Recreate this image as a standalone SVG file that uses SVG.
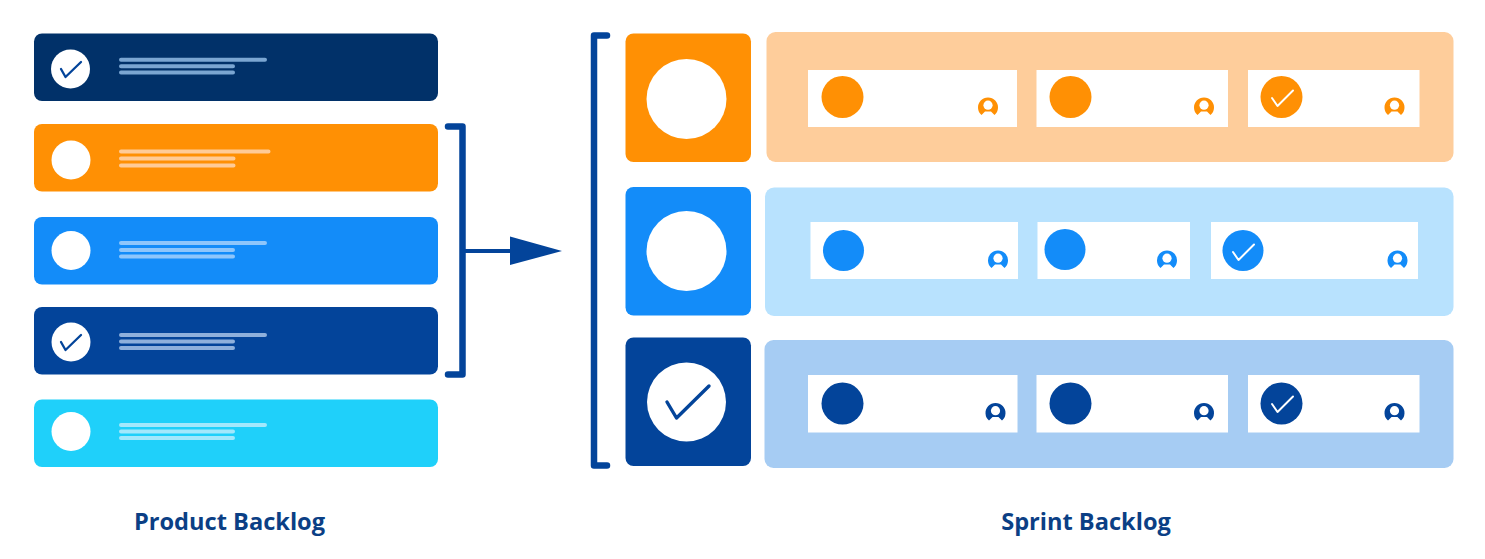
<svg xmlns="http://www.w3.org/2000/svg" width="1485" height="559" viewBox="0 0 1485 559">
<defs>
<g id="user"><path d="M-6.500 8 A10 10 0 1 1 6.500 8 L3 4.500 H-3 Z" fill="currentColor"/><circle cx="0" cy="-1.800" r="4.600" fill="#fff"/></g>
</defs>
<style>
.lbl{font-family:"Open Sans","Noto Sans",sans-serif;font-weight:700;font-size:23.600px;fill:#0b3f85;text-anchor:middle}
.ln{stroke-width:4;stroke-linecap:round}
.w{fill:#fff}
.chk{fill:none;stroke-linecap:round;stroke-linejoin:round}
.brk{fill:none;stroke:#03449a;stroke-width:6.500;stroke-linejoin:round;stroke-linecap:round}
.o{color:#ff9004;fill:#ff9004}.b{color:#138cf9;fill:#138cf9}.d{color:#03449a;fill:#03449a}
</style>
<rect width="1485" height="559" fill="#fff"/>

<g id="pb1"><rect x="34" y="33.500" width="404" height="67.500" rx="8" fill="#013169"/><circle cx="70.500" cy="69" r="19.500" class="w"/><path class="chk" d="M61 69 L65.500 77 L81 62" stroke="#03449a" stroke-width="2.300"/><g stroke="#7ba6d2" class="ln"><path d="M121 59.700H265M121 66.200H233M121 72.500H233"/></g></g>
<g id="pb2"><rect x="34" y="124" width="404" height="67.500" rx="8" fill="#ff9004"/><circle cx="71" cy="160" r="19.500" class="w"/><g stroke="#ffcb97" class="ln"><path d="M121 151.500H268.500M121 158.500H233.500M121 165.500H233.500"/></g></g>
<g id="pb3"><rect x="34" y="217" width="404" height="67.500" rx="8" fill="#138cf9"/><circle cx="71" cy="250.500" r="19.500" class="w"/><g stroke="#8ec6fb" class="ln"><path d="M121 243H265M121 250H233M121 256.500H233"/></g></g>
<g id="pb4"><rect x="34" y="307" width="404" height="67.500" rx="8" fill="#03449a"/><circle cx="71" cy="342" r="19.500" class="w"/><path class="chk" d="M61 342 L65.500 350 L81 335" stroke="#03449a" stroke-width="2.300"/><g stroke="#8eb0dc" class="ln"><path d="M121 335H265M121 341.500H233M121 348H233"/></g></g>
<g id="pb5"><rect x="34" y="399.500" width="404" height="67.500" rx="8" fill="#1fd0fa"/><circle cx="71" cy="431.500" r="19.500" class="w"/><g stroke="#a3e8fc" class="ln"><path d="M121 425H265M121 431.500H233M121 438H233"/></g></g>

<g id="connectors">
<path class="brk" d="M448 126.500H462.500V374.500H448"/>
<path d="M465 251H512" stroke="#03449a" stroke-width="4" fill="none"/>
<polygon points="510,236.500 562,251 510,265" fill="#03449a"/>
<path class="brk" d="M607 35.500H594V465.500H607"/>
</g>

<g id="head1"><rect x="625.500" y="33.500" width="125.500" height="128.500" rx="8" fill="#ff9004"/><circle cx="686.500" cy="99" r="40" class="w"/></g>
<g id="head2"><rect x="625.500" y="187" width="125.500" height="128.500" rx="8" fill="#138cf9"/><circle cx="686.500" cy="251" r="40" class="w"/></g>
<g id="head3"><rect x="625.500" y="337.500" width="125.500" height="128.500" rx="8" fill="#03449a"/><circle cx="686.500" cy="402" r="39.500" class="w"/><path class="chk" d="M667 402 L676.500 418 L709 386" stroke="#03449a" stroke-width="3.400"/></g>

<g id="row1"><rect x="766.500" y="32" width="687" height="130" rx="9" fill="#fecd9b"/></g>
<g id="row2"><rect x="765" y="187.500" width="688.500" height="128.500" rx="9" fill="#b8e2fe"/></g>
<g id="row3"><rect x="764.500" y="340" width="689" height="128" rx="9" fill="#a6ccf3"/></g>

<g id="card1-1"><rect x="808" y="70" width="209" height="57" class="w"/><circle cx="842.500" cy="97" r="21" class="o"/><use href="#user" x="988" y="107" class="o"/></g>
<g id="card1-2"><rect x="1036.500" y="70" width="191.500" height="57" class="w"/><circle cx="1070.500" cy="97" r="21" class="o"/><use href="#user" x="1204" y="107" class="o"/></g>
<g id="card1-3"><rect x="1248" y="70" width="171.500" height="57" class="w"/><circle cx="1281.500" cy="97" r="21" class="o"/><path class="chk" d="M1272 98 L1277.500 106 L1293 90.500" stroke="#fff" stroke-width="2"/><use href="#user" x="1394.500" y="107" class="o"/></g>

<g id="card2-1"><rect x="810.500" y="222" width="207.500" height="57" class="w"/><circle cx="843.500" cy="250.500" r="20.500" class="b"/><use href="#user" x="998" y="260" class="b"/></g>
<g id="card2-2"><rect x="1037.500" y="222" width="152.500" height="57" class="w"/><circle cx="1065" cy="249.500" r="20.500" class="b"/><use href="#user" x="1167" y="260" class="b"/></g>
<g id="card2-3"><rect x="1211" y="222" width="207" height="57" class="w"/><circle cx="1243" cy="250.500" r="20.500" class="b"/><path class="chk" d="M1233 252 L1238.500 260 L1254 244.500" stroke="#fff" stroke-width="2"/><use href="#user" x="1397.500" y="260" class="b"/></g>

<g id="card3-1"><rect x="808" y="375" width="209.500" height="57.500" class="w"/><circle cx="842.500" cy="403.500" r="21" class="d"/><use href="#user" x="995.500" y="412.500" class="d"/></g>
<g id="card3-2"><rect x="1036.500" y="375" width="191.500" height="57.500" class="w"/><circle cx="1070.500" cy="403.500" r="21" class="d"/><use href="#user" x="1204" y="412.500" class="d"/></g>
<g id="card3-3"><rect x="1248" y="375" width="171.500" height="57.500" class="w"/><circle cx="1281.500" cy="403.500" r="21" class="d"/><path class="chk" d="M1272 404 L1277.500 412 L1293 396.500" stroke="#fff" stroke-width="2"/><use href="#user" x="1394.500" y="412.500" class="d"/></g>

<g id="labels">
<text class="lbl" x="229.500" y="530">Product Backlog</text>
<text class="lbl" x="1086" y="530">Sprint Backlog</text>
</g>
</svg>
